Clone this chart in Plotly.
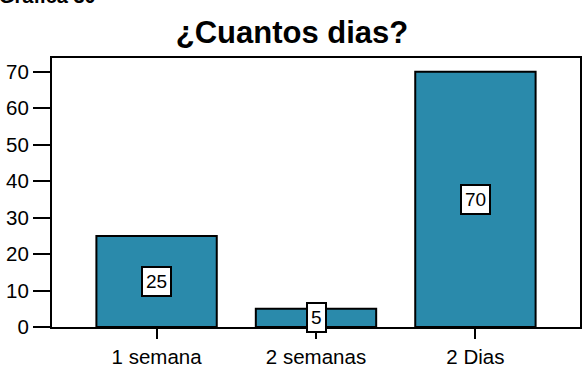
import plotly.graph_objects as go

categories = ["1 semana", "2 semanas", "2 Dias"]
counts = [25, 5, 70]
y_ticks = [0, 10, 20, 30, 40, 50, 60, 70]

bar_color = "#2a8aab"
font_family = "Liberation Sans, Arial, sans-serif"

fig = go.Figure()
fig.add_trace(go.Bar(
    x=list(range(len(categories))),
    y=counts,
    width=0.755,
    marker=dict(color=bar_color, line=dict(color="black", width=2)),
    hoverinfo="skip",
))

# value labels in white boxes at mid-height of each bar
for i, v in enumerate(counts):
    fig.add_annotation(
        x=i, y=v / 2, xref="x", yref="y",
        text=str(v), showarrow=False,
        font=dict(family=font_family, size=19, color="black"),
        bgcolor="white", bordercolor="black", borderwidth=2, borderpad=3,
    )

fig.add_annotation(
    x=-0.105, y=1.183, xref="paper", yref="paper",
    xanchor="left", yanchor="bottom",
    text="<b>Grafica 30</b>", showarrow=False,
    font=dict(family=font_family, size=20, color="black"),
)

fig.update_layout(
    width=584, height=371,
    margin=dict(l=52, r=2, t=58, b=44),
    paper_bgcolor="white", plot_bgcolor="white",
    showlegend=False,
    title=dict(
        text="<b>¿Cuantos dias?</b>",
        x=0.5, xref="container", xanchor="center",
        y=1 - 32 / 371, yanchor="middle",
        font=dict(family=font_family, size=31, color="black"),
    ),
    font=dict(family=font_family, size=20, color="black"),
)

fig.update_xaxes(
    range=[-0.656, 2.656],
    tickmode="array",
    tickvals=list(range(len(categories))),
    ticktext=categories,
    ticks="outside", ticklen=10, tickwidth=2, tickcolor="black",
    showline=True, linecolor="black", linewidth=2, mirror=True,
    showgrid=False, zeroline=False,
    tickfont=dict(size=20.5),
)
fig.update_yaxes(
    range=[0, 73.8],
    tickmode="array", tickvals=y_ticks,
    ticks="outside", ticklen=17, tickwidth=2, tickcolor="black",
    showline=True, linecolor="black", linewidth=2, mirror=True,
    showgrid=False, zeroline=False,
    tickfont=dict(size=20.5),
)

fig.write_html("out.html")
